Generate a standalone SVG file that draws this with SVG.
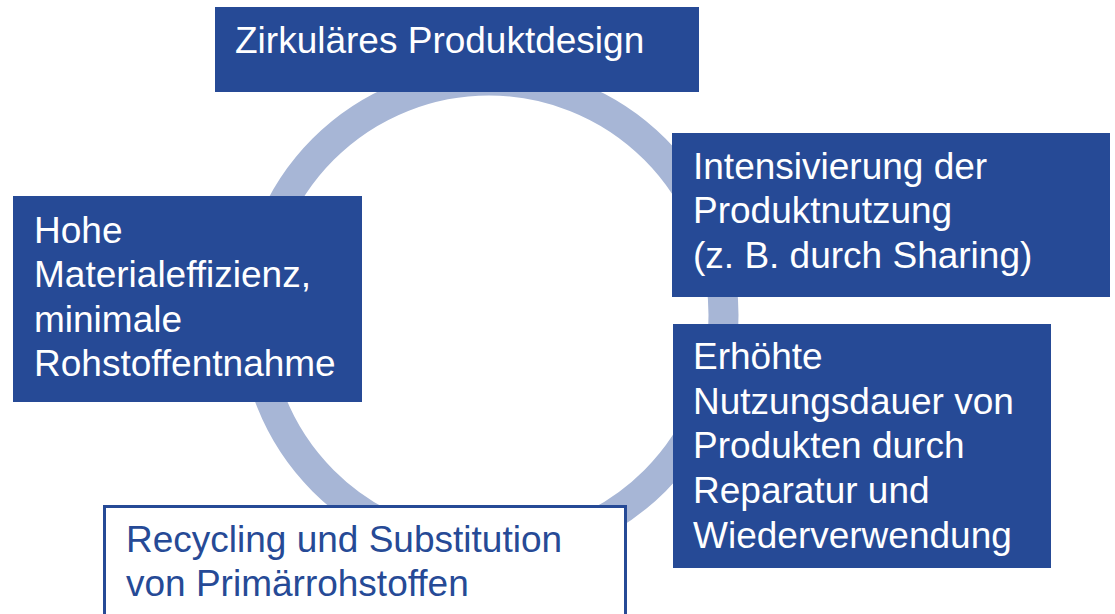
<svg xmlns="http://www.w3.org/2000/svg" width="1115" height="614" viewBox="0 0 1115 614">
<style>
.box{fill:#264A96;}
.obox{fill:#FFFFFF;stroke:#264A96;stroke-width:3;}
.t{font-family:"Liberation Sans",Arial,sans-serif;font-size:37px;fill:#FFFFFF;}
.tb{font-family:"Liberation Sans",Arial,sans-serif;font-size:37px;fill:#264A96;}
.ring{fill:none;stroke:#A7B6D6;stroke-width:30;}
</style>
<rect width="1115" height="614" fill="#FFFFFF"/>
<g id="connectors">
<circle class="ring" cx="489" cy="315" r="234.5"/>
</g>
<g id="node-design">
<rect class="box" x="215" y="7" width="484" height="85"/>
<text class="t" x="235" y="53">Zirkuläres Produktdesign</text>
</g>
<g id="node-effizienz">
<rect class="box" x="13" y="196" width="349" height="206"/>
<text class="t"><tspan x="34" y="243">Hohe</tspan><tspan x="34" y="287">Materialeffizienz,</tspan><tspan x="34" y="332">minimale</tspan><tspan x="34" y="376">Rohstoffentnahme</tspan></text>
</g>
<g id="node-nutzung">
<rect class="box" x="672" y="133" width="438" height="164"/>
<text class="t"><tspan x="693" y="179">Intensivierung der</tspan><tspan x="693" y="223">Produktnutzung</tspan><tspan x="693" y="268">(z. B. durch Sharing)</tspan></text>
</g>
<g id="node-dauer">
<rect class="box" x="673" y="324" width="378" height="244"/>
<text class="t"><tspan x="693" y="369">Erhöhte</tspan><tspan x="693" y="414">Nutzungsdauer von</tspan><tspan x="693" y="458">Produkten durch</tspan><tspan x="693" y="503">Reparatur und</tspan><tspan x="693" y="548">Wiederverwendung</tspan></text>
</g>
<g id="node-recycling">
<rect class="obox" x="104.5" y="506.5" width="521" height="120"/>
<text class="tb"><tspan x="126" y="552">Recycling und Substitution</tspan><tspan x="126" y="596">von Primärrohstoffen</tspan></text>
</g>
</svg>
